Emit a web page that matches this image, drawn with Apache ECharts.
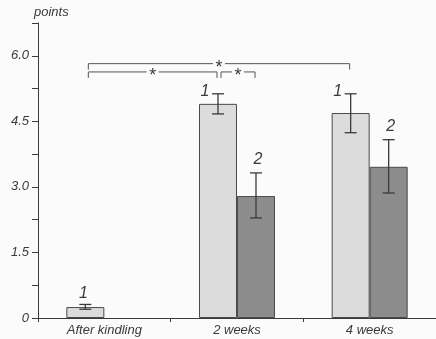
<!DOCTYPE html>
<html><head><meta charset="utf-8">
<script src="https://cdn.jsdelivr.net/npm/echarts@6/dist/echarts.min.js"></script>
<style>html,body{margin:0;padding:0;background:#fbfbfb}#c{width:436px;height:339px}</style>
</head><body><div id="c"></div>
<script>
var categories = ['After kindling', '2 weeks', '4 weeks'];
var series1 = [0.25, 4.90, 4.69];
var series2 = [null, 2.79, 3.46];
var err1Low = [0.20, 4.67, 4.24];
var err1High = [0.31, 5.13, 5.13];
var err2Low = [null, 2.29, 2.86];
var err2High = [null, 3.32, 4.08];
var seriesLabels = ['1', '2'];
// significance brackets: [startCat, startBar, endCat, endBar, level]
var brackets = [[0, 0, 2, 0, 5.82], [0, 0, 1, 0, 5.63], [1, 0, 1, 1, 5.63]];

var FONT = 'Liberation Sans, Arial, sans-serif';
var INK = '#3a3a3a';
var BW = 38;

var errData = [];
for (var i = 0; i < categories.length; i++) {
  if (series1[i] != null) errData.push([i, 0, series1[i], err1Low[i], err1High[i]]);
  if (series2[i] != null) errData.push([i, 1, series2[i], err2Low[i], err2High[i]]);
}

var chart = echarts.init(document.getElementById('c'), null, {renderer: 'canvas'});
chart.setOption({
  backgroundColor: '#fbfbfb',
  animation: false,
  grid: {left: 38, right: 0, top: 23, bottom: 21, containLabel: false},
  xAxis: {
    type: 'category', data: categories,
    axisLine: {lineStyle: {color: INK, width: 1}},
    axisTick: {show: true, length: 4, lineStyle: {color: INK}},
    axisLabel: {color: INK, fontFamily: FONT, fontSize: 13, fontStyle: 'italic', margin: 6}
  },
  yAxis: {
    type: 'value', min: 0, max: 6.75, interval: 0.75,
    name: 'points', nameLocation: 'end', nameGap: 4,
    nameTextStyle: {color: INK, fontFamily: FONT, fontSize: 13, fontStyle: 'italic', align: 'left', padding: [0, 0, 0, -4]},
    axisLine: {show: true, lineStyle: {color: INK, width: 1}},
    axisTick: {show: true, length: 6, lineStyle: {color: INK}},
    splitLine: {show: false},
    axisLabel: {
      color: INK, fontFamily: FONT, fontSize: 13, fontStyle: 'italic', margin: 9,
      formatter: function (v) {
        var k = v / 1.5;
        if (Math.abs(k - Math.round(k)) > 1e-6) return '';
        return v === 0 ? '0' : v.toFixed(1);
      }
    }
  },
  series: [
    {type: 'bar', data: series1, barWidth: BW, barGap: '0%',
     itemStyle: {color: '#dcdcdc', borderColor: '#4a4a4a', borderWidth: 1}},
    {type: 'bar', data: series2, barWidth: BW, barGap: '0%',
     itemStyle: {color: '#8c8c8c', borderColor: '#4a4a4a', borderWidth: 1}},
    {type: 'custom', data: errData, clip: false, z: 10,
     encode: {x: 0, y: [3, 4]},
     renderItem: function (params, api) {
       var cat = api.value(0), s = api.value(1);
       var cx = api.coord([cat, 0])[0] + (s === 0 ? -BW / 2 : BW / 2);
       var yl = api.coord([cat, api.value(3)])[1];
       var yh = api.coord([cat, api.value(4)])[1];
       var cap = 6;
       var st = {stroke: INK, lineWidth: 1.3, fill: 'none'};
       var lx, ly;
       if (s === 0 && api.value(2) > 1) { lx = cx - 13; ly = yh - 2; }
       else if (s === 0) { lx = cx - 2; ly = yh - 11; }
       else { lx = cx + 2; ly = yh - 13; }
       return {type: 'group', children: [
         {type: 'line', shape: {x1: cx, y1: yl, x2: cx, y2: yh}, style: st},
         {type: 'line', shape: {x1: cx - cap, y1: yh, x2: cx + cap, y2: yh}, style: st},
         {type: 'line', shape: {x1: cx - cap, y1: yl, x2: cx + cap, y2: yl}, style: st},
         {type: 'text', x: lx, y: ly, style: {text: seriesLabels[s], fill: INK, font: 'italic 16px ' + FONT, align: 'center', verticalAlign: 'middle'}}
       ]};
     }},
    {type: 'custom', data: brackets, clip: false, z: 10,
     encode: {x: [0, 2], y: 4},
     renderItem: function (params, api) {
       var c1 = api.value(0), b1 = api.value(1), c2 = api.value(2), b2 = api.value(3), lv = api.value(4);
       var x1 = api.coord([c1, 0])[0] + (b1 === 0 ? -BW / 2 : BW / 2) + 3;
       var x2 = api.coord([c2, 0])[0] + (b2 === 0 ? -BW / 2 : BW / 2) - 1;
       var y = api.coord([c1, lv])[1];
       var mid = (x1 + x2) / 2;
       var gap = 6, drop = 6;
       var st = {stroke: '#555', lineWidth: 1, fill: null};
       return {type: 'group', children: [
         {type: 'polyline', shape: {points: [[x1, y + drop], [x1, y], [mid - gap, y]]}, style: st},
         {type: 'polyline', shape: {points: [[mid + gap, y], [x2, y], [x2, y + drop]]}, style: st},
         {type: 'text', x: mid, y: y + 4, style: {text: '*', fill: INK, font: '18px ' + FONT, align: 'center', verticalAlign: 'middle'}}
       ]};
     }}
  ]
});
</script></body></html>
